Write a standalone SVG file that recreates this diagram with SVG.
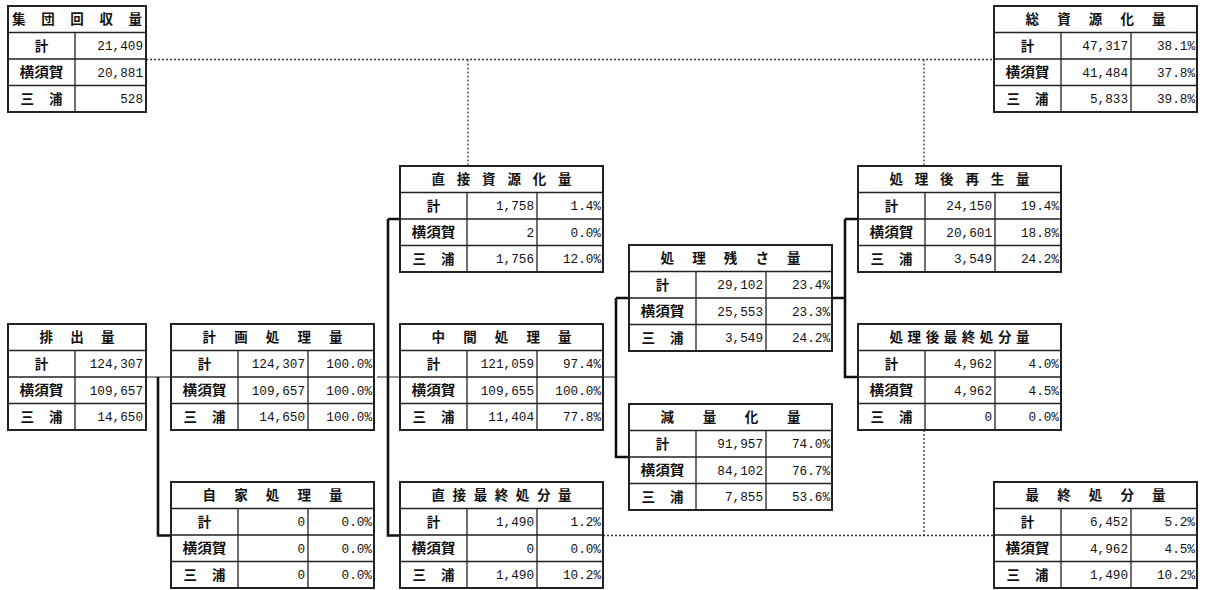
<svg xmlns="http://www.w3.org/2000/svg" xmlns:xlink="http://www.w3.org/1999/xlink" width="1205" height="590" viewBox="0 0 1205 590">
<style>
.bg{fill:#fff}
.box{fill:#fff;stroke:#222;stroke-width:2}
.in{stroke:#222;stroke-width:1.3;fill:none}
.hd{font-family:"Noto Sans CJK JP","Noto Sans CJK SC",sans-serif;font-weight:bold;font-size:13.5px;fill:#111;text-anchor:middle}
.lb{font-family:"Noto Sans CJK JP","Noto Sans CJK SC",sans-serif;font-weight:bold;font-size:13.5px;fill:#111;text-anchor:middle}
.nm{font-family:"Liberation Mono",monospace;font-size:12.7px;fill:#111;text-anchor:end}
.thin{stroke:#222;stroke-width:1.2;fill:none}
.thick{stroke:#111;stroke-width:2.6;fill:none}
.dot{stroke:#333;stroke-width:1.3;stroke-dasharray:2 2;fill:none}
</style>
<defs>
<g id="grid3">
<rect class="box" x="0" y="0" width="203" height="106"/>
<path class="in" d="M0 26.5H203M0 53H203M0 79.5H203M67 26.5V106M137 26.5V106"/>
</g>
<g id="grid2">
<rect class="box" x="0" y="0" width="138" height="106"/>
<path class="in" d="M0 26.5H138M0 53H138M0 79.5H138M67 26.5V106"/>
</g>
<g id="labels">
<text class="lb" x="33.5" y="44.5">計</text>
<text class="lb" x="33.5" y="71" textLength="44" lengthAdjust="spacingAndGlyphs">横須賀</text>
<text class="lb" x="33.5" y="97.5" textLength="42" lengthAdjust="spacing">三　浦</text>
</g>
</defs>
<rect class="bg" x="0" y="0" width="1205" height="590"/>

<g id="connectors">
<path class="dot" d="M146 59.5H994M468 59.5V166M924 59.5V166"/>
<path class="dot" d="M924 430V535.5M603 535.5H994"/>
<path class="thin" d="M146 377H171M377 377H400M603 377H616"/>
<path class="thick" d="M158 377V535.5H171"/>
<path class="thick" d="M388 219V535.5H400M388 219H400"/>
<path class="thick" d="M616 298V457H629M616 298H629"/>
<path class="thick" d="M833 298H845M845 219V377H858M845 219H858"/>
</g>

<g id="n-shudan" transform="translate(8,6)">
<use xlink:href="#grid2"/><use xlink:href="#labels"/>
<text class="hd" x="69" y="18" textLength="130" lengthAdjust="spacing">集団回収量</text>
<text class="nm" x="135" y="44">21,409</text>
<text class="nm" x="135" y="70.5">20,881</text>
<text class="nm" x="135" y="97">528</text>
</g>

<g id="n-soshigen" transform="translate(994,6)">
<use xlink:href="#grid3"/><use xlink:href="#labels"/>
<text class="hd" x="101.5" y="18" textLength="140" lengthAdjust="spacing">総資源化量</text>
<text class="nm" x="134" y="44">47,317</text><text class="nm" x="201" y="44">38.1%</text>
<text class="nm" x="134" y="70.5">41,484</text><text class="nm" x="201" y="70.5">37.8%</text>
<text class="nm" x="134" y="97">5,833</text><text class="nm" x="201" y="97">39.8%</text>
</g>

<g id="n-chokushigen" transform="translate(400,166)">
<use xlink:href="#grid3"/><use xlink:href="#labels"/>
<text class="hd" x="101.5" y="18" textLength="140" lengthAdjust="spacing">直接資源化量</text>
<text class="nm" x="134" y="44">1,758</text><text class="nm" x="201" y="44">1.4%</text>
<text class="nm" x="134" y="70.5">2</text><text class="nm" x="201" y="70.5">0.0%</text>
<text class="nm" x="134" y="97">1,756</text><text class="nm" x="201" y="97">12.0%</text>
</g>

<g id="n-saisei" transform="translate(858,166)">
<use xlink:href="#grid3"/><use xlink:href="#labels"/>
<text class="hd" x="101.5" y="18" textLength="140" lengthAdjust="spacing">処理後再生量</text>
<text class="nm" x="134" y="44">24,150</text><text class="nm" x="201" y="44">19.4%</text>
<text class="nm" x="134" y="70.5">20,601</text><text class="nm" x="201" y="70.5">18.8%</text>
<text class="nm" x="134" y="97">3,549</text><text class="nm" x="201" y="97">24.2%</text>
</g>

<g id="n-zansa" transform="translate(629,245)">
<use xlink:href="#grid3"/><use xlink:href="#labels"/>
<text class="hd" x="101.5" y="18" textLength="140" lengthAdjust="spacing">処理残さ量</text>
<text class="nm" x="134" y="44">29,102</text><text class="nm" x="201" y="44">23.4%</text>
<text class="nm" x="134" y="70.5">25,553</text><text class="nm" x="201" y="70.5">23.3%</text>
<text class="nm" x="134" y="97">3,549</text><text class="nm" x="201" y="97">24.2%</text>
</g>

<g id="n-haishutsu" transform="translate(8,324)">
<use xlink:href="#grid2"/><use xlink:href="#labels"/>
<text class="hd" x="69" y="18" textLength="75" lengthAdjust="spacing">排出量</text>
<text class="nm" x="135" y="44">124,307</text>
<text class="nm" x="135" y="70.5">109,657</text>
<text class="nm" x="135" y="97">14,650</text>
</g>

<g id="n-keikaku" transform="translate(171,324)">
<use xlink:href="#grid3"/><use xlink:href="#labels"/>
<text class="hd" x="101.5" y="18" textLength="140" lengthAdjust="spacing">計画処理量</text>
<text class="nm" x="134" y="44">124,307</text><text class="nm" x="201" y="44">100.0%</text>
<text class="nm" x="134" y="70.5">109,657</text><text class="nm" x="201" y="70.5">100.0%</text>
<text class="nm" x="134" y="97">14,650</text><text class="nm" x="201" y="97">100.0%</text>
</g>

<g id="n-chukan" transform="translate(400,324)">
<use xlink:href="#grid3"/><use xlink:href="#labels"/>
<text class="hd" x="101.5" y="18" textLength="140" lengthAdjust="spacing">中間処理量</text>
<text class="nm" x="134" y="44">121,059</text><text class="nm" x="201" y="44">97.4%</text>
<text class="nm" x="134" y="70.5">109,655</text><text class="nm" x="201" y="70.5">100.0%</text>
<text class="nm" x="134" y="97">11,404</text><text class="nm" x="201" y="97">77.8%</text>
</g>

<g id="n-shorigo-saishu" transform="translate(858,324)">
<use xlink:href="#grid3"/><use xlink:href="#labels"/>
<text class="hd" x="101.5" y="18" textLength="140" lengthAdjust="spacing">処理後最終処分量</text>
<text class="nm" x="134" y="44">4,962</text><text class="nm" x="201" y="44">4.0%</text>
<text class="nm" x="134" y="70.5">4,962</text><text class="nm" x="201" y="70.5">4.5%</text>
<text class="nm" x="134" y="97">0</text><text class="nm" x="201" y="97">0.0%</text>
</g>

<g id="n-genryo" transform="translate(629,404)">
<use xlink:href="#grid3"/><use xlink:href="#labels"/>
<text class="hd" x="101.5" y="18" textLength="140" lengthAdjust="spacing">減量化量</text>
<text class="nm" x="134" y="44">91,957</text><text class="nm" x="201" y="44">74.0%</text>
<text class="nm" x="134" y="70.5">84,102</text><text class="nm" x="201" y="70.5">76.7%</text>
<text class="nm" x="134" y="97">7,855</text><text class="nm" x="201" y="97">53.6%</text>
</g>

<g id="n-jika" transform="translate(171,482)">
<use xlink:href="#grid3"/><use xlink:href="#labels"/>
<text class="hd" x="101.5" y="18" textLength="140" lengthAdjust="spacing">自家処理量</text>
<text class="nm" x="134" y="44">0</text><text class="nm" x="201" y="44">0.0%</text>
<text class="nm" x="134" y="70.5">0</text><text class="nm" x="201" y="70.5">0.0%</text>
<text class="nm" x="134" y="97">0</text><text class="nm" x="201" y="97">0.0%</text>
</g>

<g id="n-chokusaishu" transform="translate(400,482)">
<use xlink:href="#grid3"/><use xlink:href="#labels"/>
<text class="hd" x="101.5" y="18" textLength="140" lengthAdjust="spacing">直接最終処分量</text>
<text class="nm" x="134" y="44">1,490</text><text class="nm" x="201" y="44">1.2%</text>
<text class="nm" x="134" y="70.5">0</text><text class="nm" x="201" y="70.5">0.0%</text>
<text class="nm" x="134" y="97">1,490</text><text class="nm" x="201" y="97">10.2%</text>
</g>

<g id="n-saishu" transform="translate(994,482)">
<use xlink:href="#grid3"/><use xlink:href="#labels"/>
<text class="hd" x="101.5" y="18" textLength="140" lengthAdjust="spacing">最終処分量</text>
<text class="nm" x="134" y="44">6,452</text><text class="nm" x="201" y="44">5.2%</text>
<text class="nm" x="134" y="70.5">4,962</text><text class="nm" x="201" y="70.5">4.5%</text>
<text class="nm" x="134" y="97">1,490</text><text class="nm" x="201" y="97">10.2%</text>
</g>
</svg>
